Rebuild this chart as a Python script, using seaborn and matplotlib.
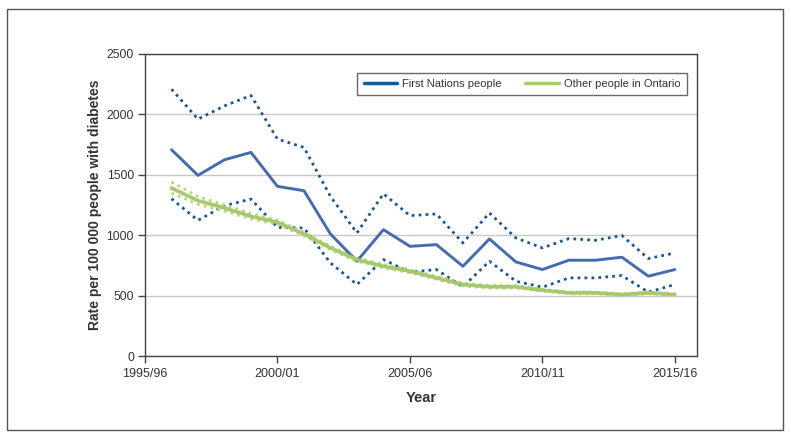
import matplotlib
matplotlib.use("Agg")
import matplotlib.pyplot as plt
from matplotlib.patches import Rectangle
import seaborn as sns
import pandas as pd

# fiscal years 1996/97 .. 2015/16 (x = years since 1995/96)
years = list(range(1, 21))
tick_pos = [0, 5, 10, 15, 20]
tick_labels = ["1995/96", "2000/01", "2005/06", "2010/11", "2015/16"]

fn_rate = [1707, 1495, 1624, 1685, 1404, 1368, 1010, 785, 1046, 908,
           922, 743, 969, 779, 716, 793, 793, 818, 661, 716]
fn_upper = [2208, 1960, 2070, 2156, 1795, 1726, 1321, 1019, 1343, 1162,
            1176, 936, 1184, 977, 895, 972, 958, 997, 807, 853]
fn_lower = [1302, 1123, 1244, 1299, 1065, 1060, 771, 592, 798, 694,
            716, 573, 785, 619, 570, 647, 647, 666, 529, 592]

oth_rate = [1390, 1286, 1225, 1156, 1107, 1010, 895, 798, 743, 702,
            647, 592, 573, 573, 545, 523, 523, 509, 523, 509]
oth_upper = [1440, 1320, 1250, 1180, 1125, 1025, 910, 815, 758, 715,
             660, 605, 585, 583, 553, 530, 530, 516, 530, 517]
oth_lower = [1350, 1255, 1200, 1135, 1090, 995, 880, 785, 730, 690,
             635, 580, 563, 563, 538, 516, 516, 502, 516, 502]

df = pd.DataFrame({"year": years * 6,
                   "value": fn_rate + fn_upper + fn_lower + oth_rate + oth_upper + oth_lower,
                   "series": (["fn"] * 20 + ["fn_up"] * 20 + ["fn_lo"] * 20
                              + ["oth"] * 20 + ["oth_up"] * 20 + ["oth_lo"] * 20)})

sns.set_style("white")
plt.rcParams["font.family"] = ["Liberation Sans", "DejaVu Sans"]

blue = "#476baf"
blue_dot = "#1d5891"
green = "#a7c96b"
green_dot = "#b8d68a"
txt = "#333333"

fig = plt.figure(figsize=(7.91, 4.38), dpi=100)
ax = fig.add_axes([0.1833, 0.187, 0.6977, 0.69])

dot = (0, (1, 1.5))
sns.lineplot(data=df[df.series == "fn_up"], x="year", y="value", color=blue_dot, lw=2, linestyle=dot, ax=ax)
sns.lineplot(data=df[df.series == "fn_lo"], x="year", y="value", color=blue_dot, lw=2, linestyle=dot, ax=ax)
sns.lineplot(data=df[df.series == "oth_up"], x="year", y="value", color=green_dot, lw=2, linestyle=dot, ax=ax)
sns.lineplot(data=df[df.series == "oth_lo"], x="year", y="value", color=green_dot, lw=2, linestyle=dot, ax=ax)
sns.lineplot(data=df[df.series == "fn"], x="year", y="value", color=blue, lw=2.1, ax=ax,
             label="First Nations people")
sns.lineplot(data=df[df.series == "oth"], x="year", y="value", color=green, lw=2.6, ax=ax,
             label="Other people in Ontario")

ax.set_xlim(0, 20.83)
ax.set_ylim(0, 2500)
ax.set_xticks(tick_pos)
ax.set_xticklabels(tick_labels)
ax.set_yticks([0, 500, 1000, 1500, 2000, 2500])
ax.yaxis.grid(True, color="#c8c8c8", lw=1)
ax.set_axisbelow(True)
for s in ax.spines.values():
    s.set_color("#444444")
    s.set_linewidth(1)
ax.tick_params(axis="both", direction="out", length=5, width=1, color="#444444",
               labelsize=9, labelcolor=txt, left=True, bottom=True)
ax.tick_params(axis="y", labelsize=8.7, pad=3)

ax.set_xlabel("Year", fontsize=10.5, fontweight="bold", color=txt, labelpad=8)
ax.set_ylabel("Rate per 100 000 people with diabetes", fontsize=10, fontweight="bold",
              color=txt, labelpad=3)

handles, labels = ax.get_legend_handles_labels()
leg = ax.legend(handles[-2:], labels[-2:], loc="upper right", bbox_to_anchor=(0.982, 0.937),
                borderaxespad=0, ncol=2, frameon=True, fancybox=False, fontsize=8,
                handlelength=3.0, columnspacing=2.1, borderpad=0.55, handletextpad=0.5)
leg.get_frame().set_edgecolor("#444444")
leg.get_frame().set_linewidth(1)
for line in leg.get_lines():
    line.set_linewidth(2.5)
leg.get_lines()[0].set_color(blue_dot)
for t in leg.get_texts():
    t.set_color(txt)

fig.patches.append(Rectangle((7 / 791, 1 - 430 / 438), 776 / 791, 421 / 438,
                             transform=fig.transFigure, fill=False, edgecolor="#555555", lw=1))

fig.savefig("out.png", dpi=100)
